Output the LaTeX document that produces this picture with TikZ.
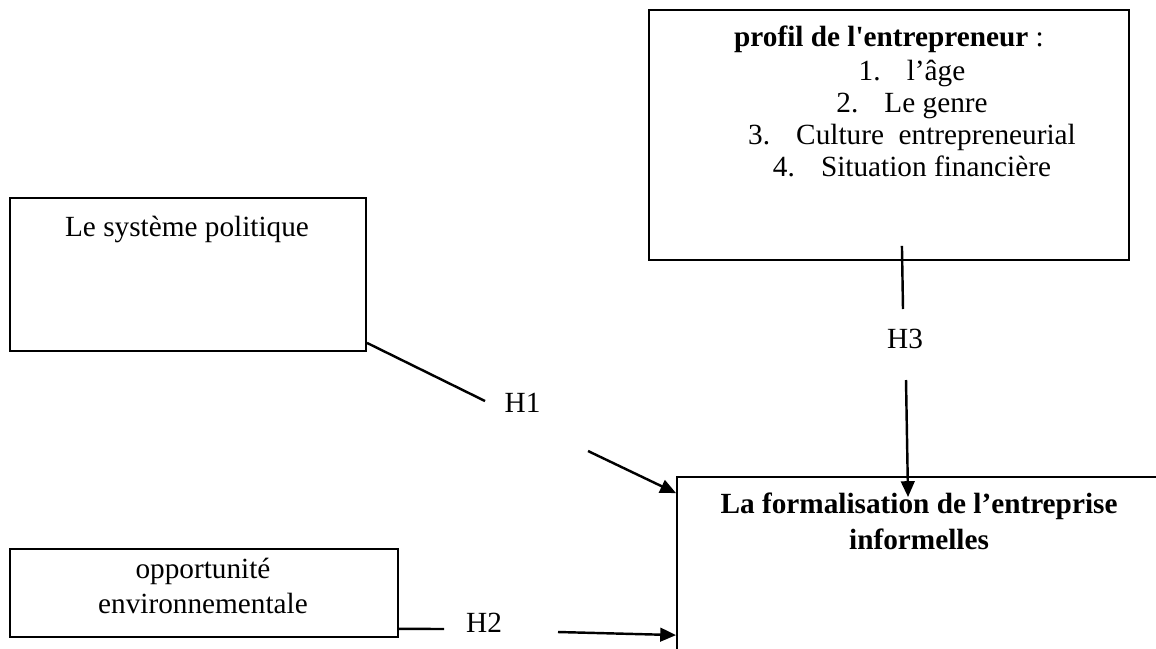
\documentclass[tikz,border=0pt]{standalone}
\usepackage{fontspec}
\setmainfont{Liberation Serif}
\usetikzlibrary{arrows.meta}
\begin{document}
\begin{tikzpicture}[x=0.41pt, y=-0.41pt, font=\fontsize{12}{13}\selectfont,
        bloc/.style={draw=black, line width=0.8pt, rectangle, inner sep=0pt},
        trait/.style={line width=1pt},
        fleche/.style={line width=1pt, -{Triangle[length=6.5pt, width=5.6pt]}}]
    \clip (0, 0) rectangle (1156, 648);
    \node[bloc, minimum width=146pt, minimum height=62.7pt](polit) at (188, 274.5){};
    \node[bloc, minimum width=196.8pt, minimum height=102.5pt](profil) at (889, 135){};
    \node[bloc, minimum width=159pt, minimum height=36pt](oppor) at (204, 593){};
    \node[bloc, minimum width=198.4pt, minimum height=91.4pt](formal) at (919, 588.5){};
    \node[anchor=base](politxt) at (187, 236){Le système politique};
    \node[anchor=base](proftxt) at (889, 47){\textbf{profil de l\textquotesingle entrepreneur} :};
    \node[anchor=base, align=center](liste) at (912, 176){1.\hspace{10.7pt}l’âge\\2.\hspace{10.7pt}Le genre\\3.\hspace{10.7pt}Culture\ \ entrepreneurial\\4.\hspace{10.7pt}Situation financière};
    \node[anchor=base, align=center, font=\fontsize{12}{14}\selectfont](oppotxt) at (203, 613){opportunité\\environnementale};
    \node[anchor=base, align=center, font=\fontsize{12}{14.4}\selectfont\bfseries](formtxt) at (919, 549){La formalisation de l’entreprise\\informelles};
    \node(h1) at (522.5, 403){H1};
    \node(h2) at (484, 623){H2};
    \node(h3) at (905, 339){H3};
    \coordinate (h1a) at (485, 401);
    \coordinate (h1b) at (588, 451);
    \coordinate (h2a) at (444, 629);
    \coordinate (h2b) at (558, 632);
    \coordinate (h3a) at (903, 309);
    \coordinate (h3b) at (906, 380);
    \draw[trait] ([yshift=3.7pt]polit.south east) -- (h1a);
    \draw[fleche] (h1b) -- ([yshift=-7pt]formal.north west);
    \draw[trait] ([yshift=3.7pt]oppor.south east) -- (h2a);
    \draw[fleche] (h2b) -- ([yshift=-65.2pt]formal.north west);
    \draw[trait] ([xshift=5.3pt, yshift=6.2pt]profil.south) -- (h3a);
    \draw[fleche] (h3b) -- ([xshift=95.1pt, yshift=-8.6pt]formal.north west);
\end{tikzpicture}
\end{document}
